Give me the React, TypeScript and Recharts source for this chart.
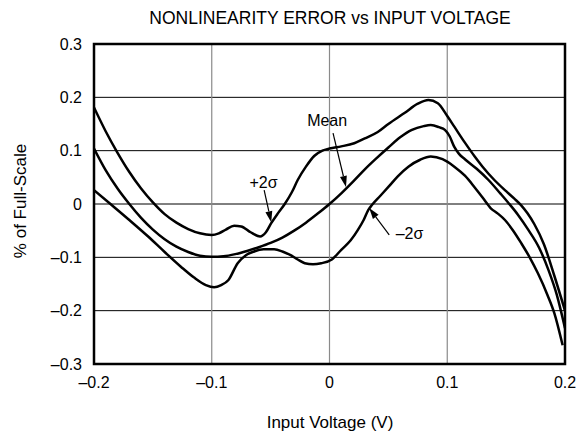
import {
  CartesianGrid,
  Label,
  Line,
  LineChart,
  ReferenceArea,
  ReferenceDot,
  ReferenceLine,
  XAxis,
  YAxis,
} from 'recharts';

const xTicks = [-0.2, -0.1, 0, 0.1, 0.2];
const yTicks = [-0.3, -0.2, -0.1, 0, 0.1, 0.2, 0.3];

// +2 sigma curve
const plus2Sigma = [
  { x: -0.2, y: 0.181 }, { x: -0.19, y: 0.136 }, { x: -0.18, y: 0.096 },
  { x: -0.17, y: 0.06 }, { x: -0.16, y: 0.029 }, { x: -0.15, y: 0.003 },
  { x: -0.14, y: -0.019 }, { x: -0.13, y: -0.035 }, { x: -0.12, y: -0.047 },
  { x: -0.11, y: -0.055 }, { x: -0.1, y: -0.058 },
  { x: -0.094, y: -0.055 }, { x: -0.088, y: -0.048 }, { x: -0.081, y: -0.041 },
  { x: -0.075, y: -0.042 }, { x: -0.067, y: -0.053 }, { x: -0.059, y: -0.061 },
  { x: -0.054, y: -0.053 }, { x: -0.0495, y: -0.036 }, { x: -0.044, y: -0.018 },
  { x: -0.038, y: 0.0 }, { x: -0.032, y: 0.022 }, { x: -0.027, y: 0.045 },
  { x: -0.02, y: 0.07 }, { x: -0.013, y: 0.09 }, { x: -0.006, y: 0.1 },
  { x: 0.0, y: 0.104 }, { x: 0.01, y: 0.108 }, { x: 0.021, y: 0.114 },
  { x: 0.03, y: 0.123 }, { x: 0.041, y: 0.135 }, { x: 0.05, y: 0.15 },
  { x: 0.064, y: 0.171 }, { x: 0.075, y: 0.188 }, { x: 0.084, y: 0.195 },
  { x: 0.092, y: 0.189 }, { x: 0.1, y: 0.165 }, { x: 0.106, y: 0.145 },
  { x: 0.115, y: 0.115 }, { x: 0.123, y: 0.09 }, { x: 0.13, y: 0.07 },
  { x: 0.14, y: 0.045 }, { x: 0.15, y: 0.024 }, { x: 0.157, y: 0.01 },
  { x: 0.163, y: -0.003 }, { x: 0.168, y: -0.017 }, { x: 0.174, y: -0.038 },
  { x: 0.182, y: -0.075 }, { x: 0.191, y: -0.135 }, { x: 0.2, y: -0.2 },
];

// mean curve
const meanCurve = [
  { x: -0.2, y: 0.104 }, { x: -0.19, y: 0.063 }, { x: -0.18, y: 0.029 },
  { x: -0.17, y: 0.0 }, { x: -0.16, y: -0.026 }, { x: -0.15, y: -0.048 },
  { x: -0.14, y: -0.066 }, { x: -0.13, y: -0.08 }, { x: -0.12, y: -0.09 },
  { x: -0.11, y: -0.097 }, { x: -0.1, y: -0.099 },
  { x: -0.09, y: -0.098 }, { x: -0.08, y: -0.094 }, { x: -0.07, y: -0.088 },
  { x: -0.06, y: -0.081 }, { x: -0.05, y: -0.073 }, { x: -0.04, y: -0.063 },
  { x: -0.03, y: -0.05 }, { x: -0.02, y: -0.035 }, { x: -0.01, y: -0.018 },
  { x: 0.0, y: 0.0 }, { x: 0.01, y: 0.02 }, { x: 0.02, y: 0.042 },
  { x: 0.03, y: 0.065 }, { x: 0.04, y: 0.086 }, { x: 0.05, y: 0.106 },
  { x: 0.06, y: 0.125 }, { x: 0.07, y: 0.139 }, { x: 0.08, y: 0.146 },
  { x: 0.086, y: 0.148 }, { x: 0.093, y: 0.144 }, { x: 0.098, y: 0.139 },
  { x: 0.102, y: 0.127 }, { x: 0.106, y: 0.107 }, { x: 0.11, y: 0.094 },
  { x: 0.115, y: 0.084 }, { x: 0.125, y: 0.066 }, { x: 0.135, y: 0.045 },
  { x: 0.145, y: 0.02 }, { x: 0.152, y: 0.002 }, { x: 0.16, y: -0.02 },
  { x: 0.169, y: -0.049 }, { x: 0.178, y: -0.082 }, { x: 0.186, y: -0.124 },
  { x: 0.193, y: -0.17 }, { x: 0.2, y: -0.233 },
];

// -2 sigma curve
const minus2Sigma = [
  { x: -0.2, y: 0.026 }, { x: -0.186, y: 0.0 }, { x: -0.17, y: -0.03 },
  { x: -0.154, y: -0.061 }, { x: -0.14, y: -0.09 }, { x: -0.126, y: -0.118 },
  { x: -0.115, y: -0.138 }, { x: -0.105, y: -0.152 }, { x: -0.098, y: -0.156 },
  { x: -0.092, y: -0.152 }, { x: -0.086, y: -0.143 }, { x: -0.078, y: -0.111 },
  { x: -0.071, y: -0.096 }, { x: -0.064, y: -0.089 }, { x: -0.056, y: -0.085 },
  { x: -0.047, y: -0.085 }, { x: -0.04, y: -0.089 }, { x: -0.033, y: -0.096 },
  { x: -0.027, y: -0.104 }, { x: -0.021, y: -0.111 }, { x: -0.014, y: -0.113 },
  { x: -0.007, y: -0.111 }, { x: 0.002, y: -0.104 }, { x: 0.01, y: -0.086 },
  { x: 0.018, y: -0.068 }, { x: 0.024, y: -0.049 }, { x: 0.029, y: -0.03 },
  { x: 0.033, y: -0.011 }, { x: 0.036, y: -0.002 }, { x: 0.043, y: 0.015 },
  { x: 0.05, y: 0.032 }, { x: 0.058, y: 0.052 }, { x: 0.067, y: 0.07 },
  { x: 0.077, y: 0.083 }, { x: 0.086, y: 0.089 }, { x: 0.096, y: 0.084 },
  { x: 0.106, y: 0.07 }, { x: 0.115, y: 0.053 }, { x: 0.123, y: 0.032 },
  { x: 0.13, y: 0.012 }, { x: 0.137, y: -0.008 }, { x: 0.143, y: -0.018 },
  { x: 0.149, y: -0.03 }, { x: 0.156, y: -0.05 }, { x: 0.163, y: -0.074 },
  { x: 0.17, y: -0.1 }, { x: 0.177, y: -0.13 }, { x: 0.185, y: -0.17 },
  { x: 0.191, y: -0.205 }, { x: 0.198, y: -0.265 },
];

// callouts: text anchor + arrow from/to, in data units
const callouts = [
  { text: 'Mean', tx: -0.002, ty: 0.158, from: [0.003, 0.133], to: [0.014, 0.032] },
  { text: '+2\u03c3', tx: -0.056, ty: 0.041, from: [-0.0555, 0.026], to: [-0.0495, -0.034] },
  { text: '\u20132\u03c3', tx: 0.068, ty: -0.054, from: [0.0507, -0.058], to: [0.0337, -0.0075] },
];

const FONT = '"Liberation Sans", Arial, Helvetica, sans-serif';

const fmt = (v: number) =>
  v === 0 ? '0' : (v < 0 ? '\u2013' : '') + Math.abs(v).toFixed(1);

const Arrow = (p: any) => {
  const { x1, y1, x2, y2 } = p;
  const dx = x2 - x1;
  const dy = y2 - y1;
  const len = Math.sqrt(dx * dx + dy * dy) || 1;
  const ux = dx / len;
  const uy = dy / len;
  const hl = 11;
  const hw = 3.5;
  const bx = x2 - ux * hl;
  const by = y2 - uy * hl;
  return (
    <g>
      <line x1={x1} y1={y1} x2={bx} y2={by} stroke="#000" strokeWidth={1.2} />
      <polygon
        points={`${x2},${y2} ${bx - uy * hw},${by + ux * hw} ${bx + uy * hw},${by - ux * hw}`}
        fill="#000"
      />
    </g>
  );
};

export default function App() {
  return (
    <div style={{ position: 'absolute', left: 0, top: 0, width: 581, height: 432, background: '#fff', fontFamily: FONT }}>
      <div
        style={{
          position: 'absolute',
          left: 0,
          top: 8,
          width: 660,
          textAlign: 'center',
          fontSize: 17.5,
          lineHeight: '20px',
          color: '#000',
        }}
      >
        NONLINEARITY ERROR vs INPUT VOLTAGE
      </div>
      <LineChart
        width={581}
        height={432}
        margin={{ top: 44, right: 16, bottom: 0, left: 0 }}
        style={{ position: 'absolute', left: 0, top: 0 }}
      >
        <CartesianGrid vertical={false} stroke="#000" strokeWidth={1} />
        <CartesianGrid horizontal={false} stroke="#8a8a8a" strokeWidth={1.2} />
        <XAxis
          type="number"
          dataKey="x"
          domain={[-0.2, 0.2]}
          ticks={xTicks}
          allowDataOverflow
          height={68}
          axisLine={false}
          tickLine={false}
          tickSize={10}
          tickMargin={3}
          tickFormatter={fmt}
          tick={{ fill: '#000', fontSize: 16, fontFamily: FONT }}
        >
          <Label
            content={() => (
              <text x={330} y={428} textAnchor="middle" fontSize={17} fontFamily={FONT} fill="#000">
                Input Voltage (V)
              </text>
            )}
          />
        </XAxis>
        <YAxis
          type="number"
          domain={[-0.3, 0.3]}
          ticks={yTicks}
          allowDataOverflow
          width={94}
          axisLine={false}
          tickLine={false}
          tickSize={10}
          tickMargin={2}
          tickFormatter={fmt}
          tick={{ fill: '#000', fontSize: 16, fontFamily: FONT }}
        >
          <Label
            content={() => (
              <text
                x={26}
                y={201}
                transform="rotate(-90 26 201)"
                textAnchor="middle"
                fontSize={17}
                fontFamily={FONT}
                fill="#000"
              >
                % of Full-Scale
              </text>
            )}
          />
        </YAxis>
        <Line data={plus2Sigma} dataKey="y" type="monotone" stroke="#000" strokeWidth={2.5} dot={false} isAnimationActive={false} />
        <Line data={meanCurve} dataKey="y" type="monotone" stroke="#000" strokeWidth={2.5} dot={false} isAnimationActive={false} />
        <Line data={minus2Sigma} dataKey="y" type="monotone" stroke="#000" strokeWidth={2.5} dot={false} isAnimationActive={false} />
        {callouts.map((c) => (
          <ReferenceLine
            key={'a' + c.text}
            segment={[
              { x: c.from[0], y: c.from[1] },
              { x: c.to[0], y: c.to[1] },
            ]}
            shape={Arrow}
          />
        ))}
        {callouts.map((c) => (
          <ReferenceDot
            key={'t' + c.text}
            x={c.tx}
            y={c.ty}
            r={0}
            shape={(p: any) => (
              <text x={p.cx} y={p.cy} dy={6} textAnchor="middle" fontSize={16} fontFamily={FONT} fill="#000">
                {c.text}
              </text>
            )}
          />
        ))}
        <ReferenceArea
          x1={-0.2}
          x2={0.2}
          y1={-0.3}
          y2={0.3}
          fill="none"
          fillOpacity={0}
          stroke="#000"
          strokeWidth={2.5}
        />
      </LineChart>
    </div>
  );
}
